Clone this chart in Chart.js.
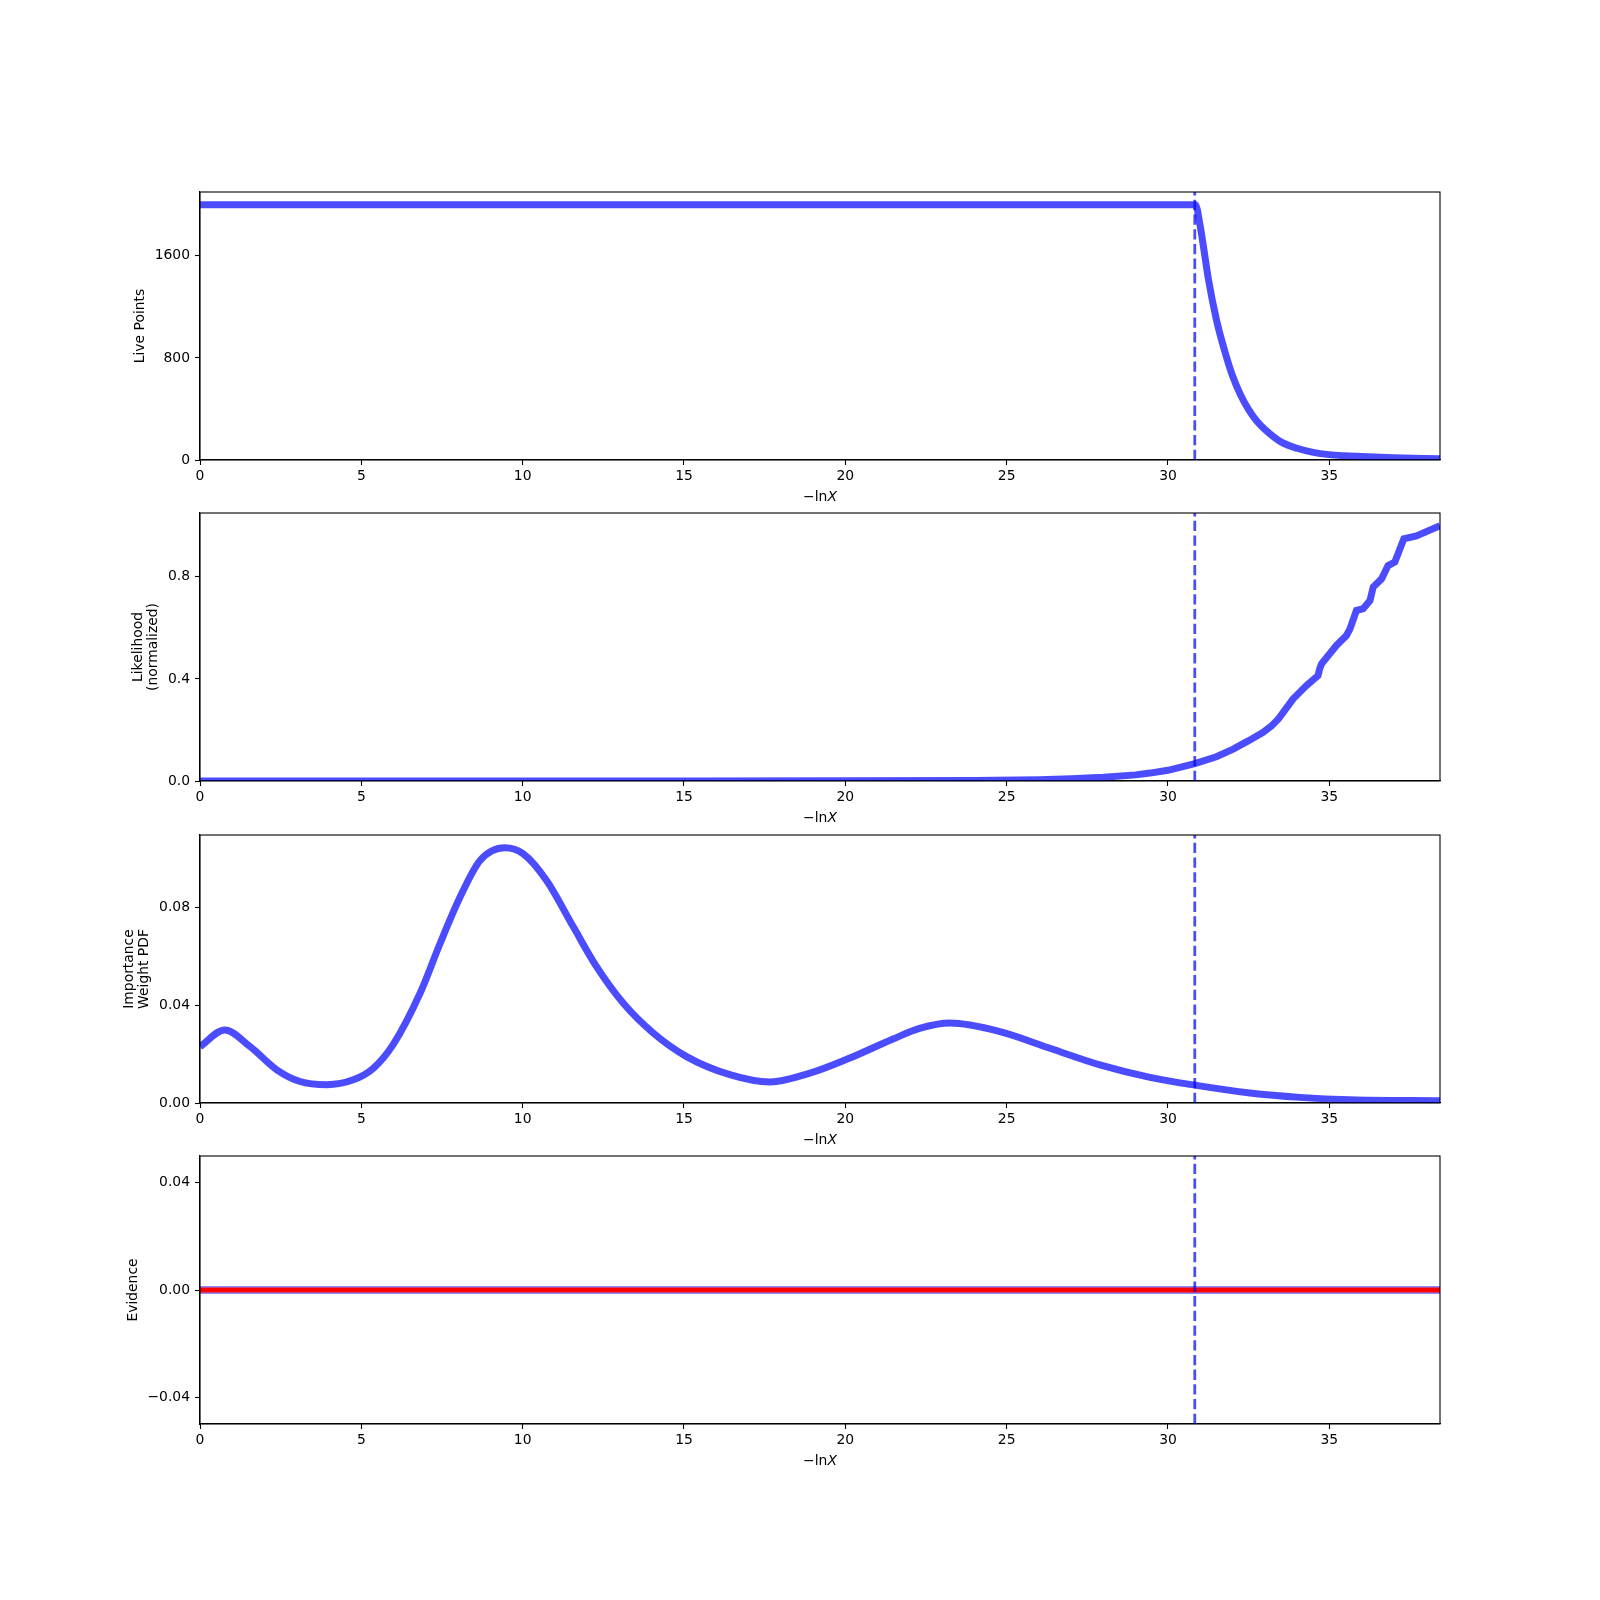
<!DOCTYPE html>
<html>
<head>
<meta charset="utf-8">
<title>Run plot</title>
<script src="https://cdn.jsdelivr.net/npm/chart.js@4.4.1/dist/chart.umd.min.js"></script>
<style>
  html, body { margin: 0; padding: 0; background: #fff; }
  #figure { position: relative; width: 1600px; height: 1600px; background: #fff; }
  #figure canvas { position: absolute; left: 0; }
</style>
</head>
<body>
<div id="figure">
  <canvas id="panel-live" width="1600" height="320"></canvas>
  <canvas id="panel-like" width="1600" height="320"></canvas>
  <canvas id="panel-weight" width="1600" height="320"></canvas>
  <canvas id="panel-evid" width="1600" height="320"></canvas>
</div>
<script>
// Data

const xMax = 38.43;
const finalLiveX = 30.83; // dashed marker where the final live points are added
const xTicks = [0, 5, 10, 15, 20, 25, 30, 35];
const xTickLabels = ['0', '5', '10', '15', '20', '25', '30', '35'];

// Panel 1 - live points
const liveX = [0, 30.85, 31.0, 31.1, 31.25, 31.5, 31.75, 32.0, 32.25, 32.5, 32.75, 33.0, 33.5, 34.0, 34.5, 35.0, 35.5, 36.0, 37.0, 38.43];
const liveY = [2000, 2000, 1830, 1670, 1420, 1100, 860, 660, 510, 395, 305, 240, 142, 92, 60, 42, 33, 27, 18, 10];
const liveTicks = [0, 800, 1600];
const liveTickLabels = ['0', '800', '1600'];

// Panel 2 - normalized likelihood
const likeX = [0, 15, 20, 24, 26, 27, 28, 29, 29.44, 30, 30.83, 31.5, 32.02, 32.5, 32.95, 33.2, 33.42, 33.57, 33.88, 34.29, 34.65, 34.7, 34.76, 35.22, 35.53, 35.64, 35.84, 36.05, 36.26, 36.36, 36.62, 36.82, 37.03, 37.31, 37.7, 38.43];
const likeY = [0, 0, 0.0005, 0.002, 0.005, 0.009, 0.015, 0.024, 0.031, 0.042, 0.068, 0.095, 0.125, 0.158, 0.191, 0.215, 0.243, 0.269, 0.322, 0.374, 0.413, 0.44, 0.459, 0.531, 0.570, 0.596, 0.668, 0.675, 0.707, 0.760, 0.792, 0.844, 0.858, 0.949, 0.960, 1.0];
const likeTicks = [0, 0.4, 0.8];
const likeTickLabels = ['0.0', '0.4', '0.8'];

// Panel 3 - importance weight PDF
const weightX = [0, 0.77, 1.55, 2.38, 3.1, 3.93, 4.75, 5.37, 5.99, 6.82, 7.44, 8.06, 8.68, 9.45, 10.02, 10.74, 11.57, 12.29, 13.12, 14.05, 15.08, 16.42, 17.66, 18.9, 20.14, 21.48, 22.3, 23.24, 24.79, 26.34, 27.89, 29.44, 30.83, 32.54, 34.09, 35.64, 38.43];
const weightY = [0.0231, 0.0299, 0.0231, 0.0136, 0.0088, 0.0075, 0.0095, 0.0142, 0.0240, 0.0449, 0.0653, 0.0843, 0.0993, 0.1045, 0.1020, 0.0911, 0.0721, 0.0558, 0.0408, 0.0286, 0.0190, 0.0116, 0.0086, 0.0122, 0.0184, 0.0262, 0.0305, 0.0327, 0.0292, 0.0224, 0.0156, 0.0105, 0.0073, 0.0041, 0.0023, 0.0013, 0.0009];
const weightTicks = [0, 0.04, 0.08];
const weightTickLabels = ['0.00', '0.04', '0.08'];

// Panel 4 - evidence
const evidX = [0, 38.43];
const evidY = [0, 0];
const evidTicks = [-0.04, 0, 0.04];
const evidTickLabels = ['\u22120.04', '0.00', '0.04'];

document.addEventListener('DOMContentLoaded', () => {
    const FONT = "'DejaVu Sans', sans-serif";
    const FONT_SIZE = 13.9;
    const BLUE = 'rgba(0, 0, 255, 0.7)';
    const PAD_TOP = 8;       // canvas rows above the axes box
    const AXIS_H = 44;       // canvas rows below the axes box

    Chart.defaults.font.family = FONT;
    Chart.defaults.font.size = FONT_SIZE;
    Chart.defaults.color = '#000';

    // frame + axis titles (matplotlib style box, mixed italic x label)
    const framePlugin = {
        id: 'frame',
        afterDraw(chart, args, opts) {
            const { ctx, chartArea: a } = chart;
            ctx.save();
            ctx.strokeStyle = '#000';
            ctx.lineWidth = 1.1;
            ctx.strokeRect(a.left, a.top, a.right - a.left, a.bottom - a.top);

            // x title: "−ln" upright + "X" italic
            ctx.fillStyle = '#000';
            ctx.textBaseline = 'middle';
            ctx.textAlign = 'left';
            const up = `${FONT_SIZE}px ${FONT}`;
            const it = `italic ${FONT_SIZE}px ${FONT}`;
            ctx.font = up;
            const w1 = ctx.measureText('\u2212ln').width;
            ctx.font = it;
            const w2 = ctx.measureText('X').width;
            const x0 = (a.left + a.right) / 2 - (w1 + w2) / 2;
            const ty = a.bottom + 37.5;
            ctx.font = up;
            ctx.fillText('\u2212ln', x0, ty);
            ctx.font = it;
            ctx.fillText('X', x0 + w1, ty);

            // y title, one or two lines, rotated
            ctx.font = up;
            ctx.textAlign = 'center';
            const cy = (a.top + a.bottom) / 2;
            opts.lines.forEach((line, i) => {
                ctx.save();
                ctx.translate(opts.xs[i], cy);
                ctx.rotate(-Math.PI / 2);
                ctx.fillText(line, 0, 0);
                ctx.restore();
            });
            ctx.restore();
        }
    };

    const pts = (xs, ys) => xs.map((x, i) => ({ x: x, y: ys[i] }));

    const makePanel = (id, top, cfg) => {
        const canvas = document.getElementById(id);
        canvas.style.top = (top - PAD_TOP) + 'px';

        const datasets = cfg.series.slice();
        // dashed vertical marker at the final live point iteration
        datasets.push({
            data: [{ x: finalLiveX, y: cfg.yMin }, { x: finalLiveX, y: cfg.yMax }],
            borderColor: BLUE,
            borderWidth: 2.8,
            borderDash: [10.3, 4.4],
            pointRadius: 0,
            order: 0
        });

        return new Chart(canvas, {
            type: 'line',
            data: { datasets: datasets },
            options: {
                responsive: false,
                animation: false,
                events: [],
                layout: { padding: { top: PAD_TOP, right: 160, left: 0, bottom: 0 } },
                plugins: {
                    legend: { display: false },
                    tooltip: { enabled: false },
                    frame: { lines: cfg.yTitle, xs: cfg.yTitleX }
                },
                scales: {
                    x: {
                        type: 'linear',
                        min: 0,
                        max: xMax,
                        afterBuildTicks: (s) => { s.ticks = xTicks.map(v => ({ value: v })); },
                        afterFit: (s) => {
                            s.height = AXIS_H;
                            s.paddingLeft = 0;
                            s.paddingRight = 0;
                        },
                        ticks: {
                            color: '#000',
                            padding: 3,
                            maxRotation: 0,
                            autoSkip: false,
                            callback: (v) => xTickLabels[xTicks.indexOf(v)]
                        },
                        grid: { drawOnChartArea: false, tickLength: 5, tickColor: '#000', tickWidth: 1.1 },
                        border: { display: true, color: '#000', width: 1.1 }
                    },
                    y: {
                        type: 'linear',
                        min: cfg.yMin,
                        max: cfg.yMax,
                        afterBuildTicks: (s) => { s.ticks = cfg.ticks.map(v => ({ value: v })); },
                        afterFit: (s) => {
                            s.width = 200;
                            s.paddingTop = 0;
                            s.paddingBottom = 0;
                        },
                        ticks: {
                            color: '#000',
                            padding: 5,
                            autoSkip: false,
                            callback: (v) => cfg.tickLabels[cfg.ticks.indexOf(v)]
                        },
                        grid: { drawOnChartArea: false, tickLength: 5, tickColor: '#000', tickWidth: 1.1 },
                        border: { display: true, color: '#000', width: 1.1 }
                    }
                }
            },
            plugins: [framePlugin]
        });
    };

    const curve = (xs, ys, smooth) => ({
        data: pts(xs, ys),
        borderColor: BLUE,
        borderWidth: 7,
        pointRadius: 0,
        cubicInterpolationMode: smooth ? 'monotone' : 'default',
        tension: 0,
        order: 1
    });

    // 1. Live points
    makePanel('panel-live', 192, {
        series: [curve(liveX, liveY, true)],
        yMin: 0, yMax: 2100,
        ticks: liveTicks, tickLabels: liveTickLabels,
        yTitle: ['Live Points'], yTitleX: [140]
    });

    // 2. Likelihood
    makePanel('panel-like', 513, {
        series: [curve(likeX, likeY, false)],
        yMin: 0, yMax: 1.05,
        ticks: likeTicks, tickLabels: likeTickLabels,
        yTitle: ['Likelihood', '(normalized)'], yTitleX: [138.5, 153.5]
    });

    // 3. Importance weights
    makePanel('panel-weight', 835, {
        series: [curve(weightX, weightY, true)],
        yMin: 0, yMax: 0.1097,
        ticks: weightTicks, tickLabels: weightTickLabels,
        yTitle: ['Importance', 'Weight PDF'], yTitleX: [129.5, 144.5]
    });

    // 4. Evidence - light blue band with the red line on top
    makePanel('panel-evid', 1156, {
        series: [
            { data: pts(evidX, evidY), borderColor: 'rgba(0, 0, 255, 0.45)', borderWidth: 8, pointRadius: 0, order: 3 },
            { data: pts(evidX, evidY), borderColor: '#ff0000', borderWidth: 5, pointRadius: 0, order: 2 }
        ],
        yMin: -0.05, yMax: 0.05,
        ticks: evidTicks, tickLabels: evidTickLabels,
        yTitle: ['Evidence'], yTitleX: [133.5]
    });
});
</script>
</body>
</html>
